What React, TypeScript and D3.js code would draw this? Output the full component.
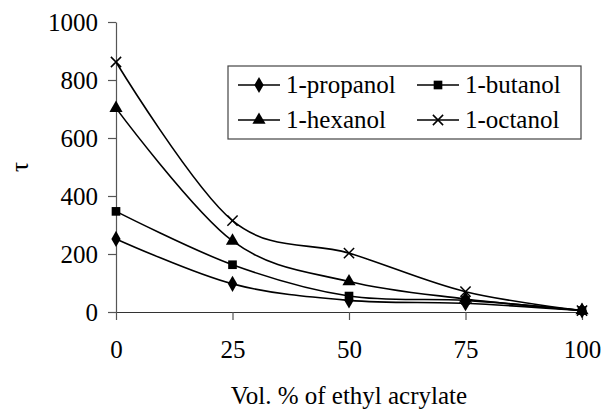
import { useEffect, useRef } from "react";
import * as d3 from "d3";

const xValues = [0, 25, 50, 75, 100];
const propanol = [252, 97, 40, 30, 5];
const butanol = [347, 163, 55, 40, 5];
const hexanol = [703, 245, 105, 45, 5];
const octanol = [862, 315, 203, 70, 5];
const yTicks = [0, 200, 400, 600, 800, 1000];

const series = [
  { name: "1-propanol", values: propanol, symbol: d3.symbolDiamond },
  { name: "1-butanol", values: butanol, symbol: d3.symbolSquare },
  { name: "1-hexanol", values: hexanol, symbol: d3.symbolTriangle },
  { name: "1-octanol", values: octanol, symbol: d3.symbolX },
];

const App = () => {
  const svgRef = useRef<SVGSVGElement>(null);

  useEffect(() => {
    const width = 603;
    const height = 412;
    const margin = { top: 22, right: 21, bottom: 100, left: 116 };
    const font = '"Times New Roman", "Liberation Serif", "DejaVu Serif", serif';

    const root = d3.select(svgRef.current);
    root.selectAll("*").remove();
    root.attr("width", width).attr("height", height);

    root.append("rect").attr("width", width).attr("height", height).attr("fill", "white");

    const x = d3.scaleLinear().domain([0, 100]).range([margin.left, width - margin.right]);
    const y = d3.scaleLinear().domain([0, 1000]).range([height - margin.bottom, margin.top]);

    // Y axis
    const yAxis = root
      .append("g")
      .attr("transform", `translate(${margin.left},0)`)
      .call(
        d3
          .axisLeft(y)
          .tickValues(yTicks)
          .tickFormat(d3.format("d"))
          .tickSize(8)
          .tickPadding(10)
          .tickSizeOuter(0)
      );
    yAxis.attr("font-family", font).attr("font-size", 25);
    yAxis.select(".domain").attr("stroke", "#555").attr("stroke-width", 1.2);
    yAxis.selectAll(".tick line").attr("stroke", "#555").attr("stroke-width", 1.2);
    yAxis.selectAll(".tick text").attr("fill", "black");

    // X axis
    const xAxis = root
      .append("g")
      .attr("transform", `translate(0,${y(0)})`)
      .call(d3.axisBottom(x).tickValues(xValues).tickSize(8).tickPadding(20).tickSizeOuter(0));
    xAxis.attr("font-family", font).attr("font-size", 25);
    xAxis.select(".domain").attr("stroke", "#333").attr("stroke-width", 1.2);
    xAxis.selectAll(".tick line").attr("stroke", "#555").attr("stroke-width", 1.2);
    xAxis.selectAll(".tick text").attr("fill", "black");

    // Axis titles
    root
      .append("text")
      .attr("x", (x(0) + x(100)) / 2)
      .attr("y", 404)
      .attr("text-anchor", "middle")
      .attr("font-family", font)
      .attr("font-size", 25)
      .text("Vol. % of ethyl acrylate");

    root
      .append("text")
      .attr("transform", `translate(28,${y(500)}) rotate(-90)`)
      .attr("text-anchor", "middle")
      .attr("font-family", font)
      .attr("font-size", 25)
      .text("τ");

    // Lines
    const line = d3
      .line<number>()
      .x((_, i) => x(xValues[i]))
      .y((d) => y(d))
      .curve(d3.curveCardinal.tension(0));

    series.forEach((s) => {
      root
        .append("path")
        .datum(s.values)
        .attr("fill", "none")
        .attr("stroke", "black")
        .attr("stroke-width", 1.6)
        .attr("d", line);

      const isX = s.symbol === d3.symbolX;
      root
        .selectAll(null)
        .data(s.values)
        .enter()
        .append("path")
        .attr("transform", (d, i) => `translate(${x(xValues[i])},${y(d)})`)
        .attr("d", d3.symbol(s.symbol, isX ? 70 : 75)())
        .attr("fill", isX ? "none" : "black")
        .attr("stroke", "black")
        .attr("stroke-width", isX ? 1.5 : 0);
    });

    // Legend
    const legend = root.append("g");
    legend
      .append("rect")
      .attr("x", 228)
      .attr("y", 66)
      .attr("width", 353)
      .attr("height", 73)
      .attr("fill", "white")
      .attr("stroke", "#444")
      .attr("stroke-width", 1.2);

    const cols = [238, 417];
    const rows = [85, 120];
    series.forEach((s, i) => {
      const cx = cols[i % 2];
      const cy = rows[Math.floor(i / 2)];
      const isX = s.symbol === d3.symbolX;
      legend
        .append("line")
        .attr("x1", cx)
        .attr("x2", cx + 42)
        .attr("y1", cy)
        .attr("y2", cy)
        .attr("stroke", "black")
        .attr("stroke-width", 1.6);
      legend
        .append("path")
        .attr("transform", `translate(${cx + 21},${cy})`)
        .attr("d", d3.symbol(s.symbol, isX ? 70 : 75)())
        .attr("fill", isX ? "none" : "black")
        .attr("stroke", "black")
        .attr("stroke-width", isX ? 1.5 : 0);
      legend
        .append("text")
        .attr("x", cx + 48)
        .attr("y", cy + 8)
        .attr("font-family", font)
        .attr("font-size", 25)
        .text(s.name);
    });
  }, []);

  return <svg ref={svgRef} style={{ position: "absolute", left: 0, top: 0 }}></svg>;
};

export default App;
